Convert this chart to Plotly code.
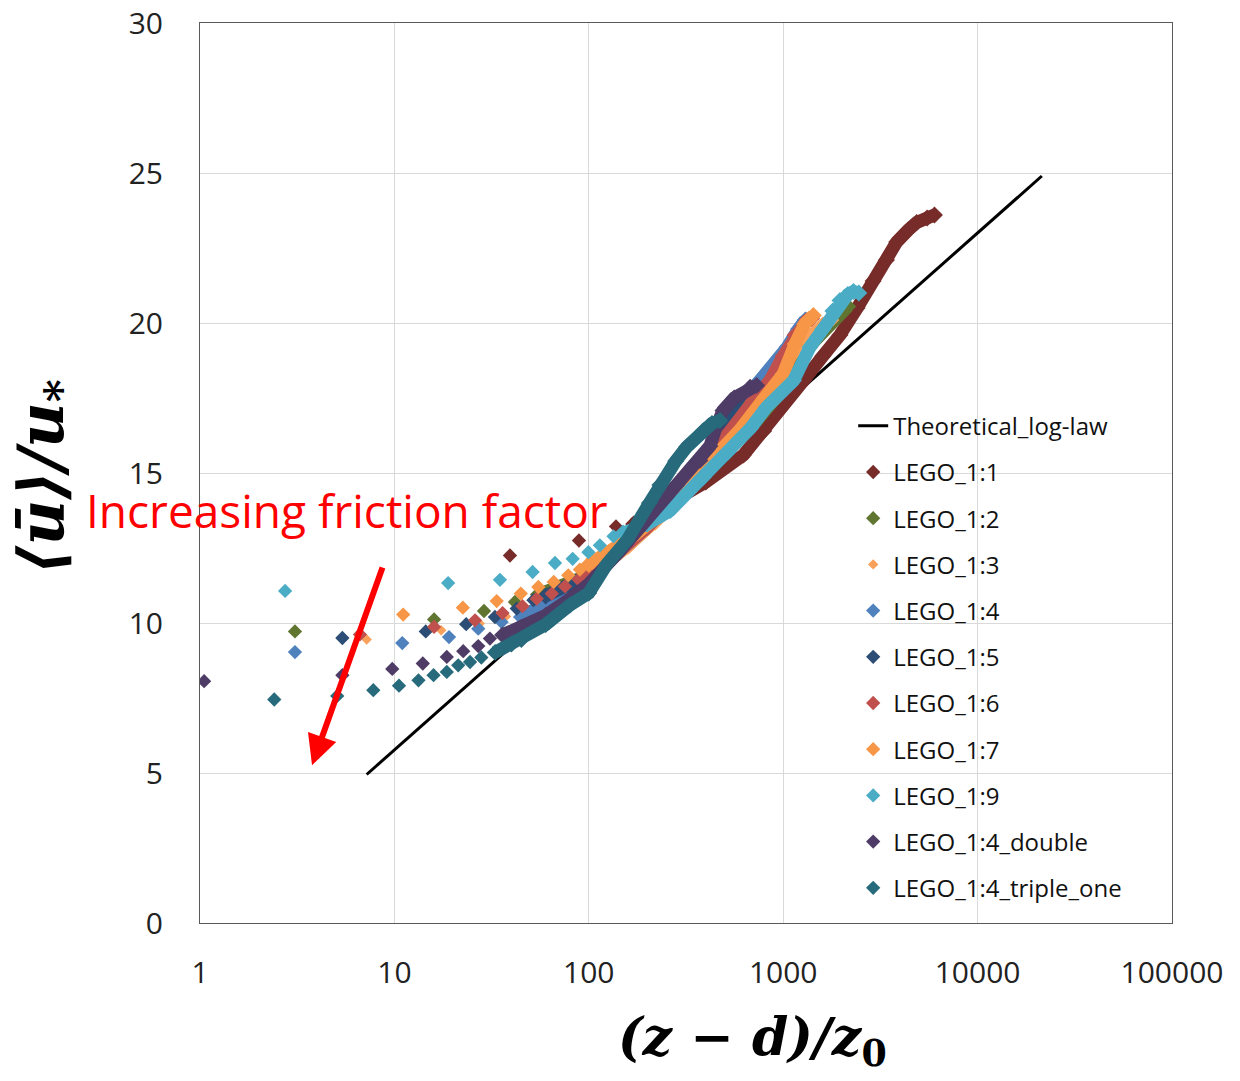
import math
import plotly.graph_objects as go

# Axis ticks
X_TICKS = [1, 10, 100, 1000, 10000, 100000]
Y_TICKS = [0, 5, 10, 15, 20, 25, 30]

# Theoretical log-law (straight on the log axis)
THEORY_X = [7.2, 21400]
THEORY_Y = [4.95, 24.9]

# LEGO_1:1
L11_NEAR_X = [39.3, 89.0, 138]
L11_NEAR_Y = [12.25, 12.75, 13.22]
L11_PROF_X = [170, 250, 400, 624, 794, 1000, 1280, 1600, 1959, 2400, 2900, 3400, 3836, 4400, 4860, 5500, 6000]
L11_PROF_Y = [13.3, 13.9, 14.7, 15.6, 16.4, 17.3, 18.1, 18.9, 19.6, 20.5, 21.4, 22.1, 22.7, 23.1, 23.35, 23.5, 23.6]

# LEGO_1:2
L12_NEAR_X = [3.08, 16.0, 28.9, 41.7]
L12_NEAR_Y = [9.72, 10.12, 10.40, 10.70]
L12_PROF_X = [55, 75, 100, 150, 262, 400, 700, 1000, 1400, 1800, 2030, 2150]
L12_PROF_Y = [10.95, 11.25, 11.6, 12.6, 13.9, 15.0, 16.6, 17.8, 19.3, 20.1, 20.4, 20.55]

# LEGO_1:3
L13_NEAR_X = [7.2, 17.4, 27.5, 37.5, 47.5, 57, 67, 77]
L13_NEAR_Y = [9.45, 9.76, 9.98, 10.22, 10.47, 10.7, 10.9, 11.1]
L13_PROF_X = [90, 120, 160, 220, 300, 420, 560, 750, 1000, 1300, 1600, 1800]
L13_PROF_Y = [11.35, 11.85, 12.5, 13.3, 14.1, 15.2, 16.1, 17.2, 18.4, 19.5, 20.0, 20.1]

# LEGO_1:4
L14_NEAR_X = [3.08, 10.98, 19.1, 27.0, 35.6]
L14_NEAR_Y = [9.03, 9.33, 9.53, 9.81, 10.03]
L14_PROF_X = [45, 60, 80, 100, 140, 200, 300, 420, 520, 640, 760, 900, 1050, 1200, 1300]
L14_PROF_Y = [10.2, 10.6, 11.1, 11.5, 12.3, 13.2, 14.5, 15.7, 16.6, 17.5, 18.1, 18.6, 19.2, 19.8, 20.1]

# LEGO_1:5
L15_NEAR_X = [5.4, 14.5, 23.4, 32.9, 42.6, 51.9]
L15_NEAR_Y = [9.50, 9.72, 9.96, 10.20, 10.48, 10.76]
L15_PROF_X = [60, 80, 100, 140, 200, 300, 400, 500, 620, 700]
L15_PROF_Y = [10.9, 11.3, 11.6, 12.4, 13.3, 14.6, 15.6, 16.5, 17.4, 17.8]

# LEGO_1:6
L16_NEAR_X = [6.65, 16.0, 26.0, 36.0, 45.6, 54.0, 64.5, 75.4]
L16_NEAR_Y = [9.62, 9.87, 10.09, 10.33, 10.56, 10.81, 10.98, 11.22]
L16_PROF_X = [90, 110, 150, 200, 300, 420, 537, 700, 855, 1000, 1150, 1320, 1400]
L16_PROF_Y = [11.45, 11.8, 12.5, 13.2, 14.4, 15.5, 16.42, 17.4, 18.08, 18.9, 19.6, 20.08, 20.15]

# LEGO_1:7
L17_NEAR_X = [11.1, 22.5, 33.6, 44.7, 55.0, 66.0, 78.4, 90.0]
L17_NEAR_Y = [10.28, 10.51, 10.73, 10.98, 11.20, 11.37, 11.59, 11.78]
L17_PROF_X = [100, 130, 170, 230, 320, 450, 595, 800, 1000, 1150, 1290, 1430]
L17_PROF_Y = [11.95, 12.4, 12.9, 13.6, 14.6, 15.7, 16.42, 17.5, 18.3, 19.3, 19.97, 20.25]

# LEGO_1:9
L19_NEAR_X = [2.74, 18.9, 34.9, 51.4, 67.0, 82.6, 99.5, 114, 134]
L19_NEAR_Y = [11.07, 11.33, 11.44, 11.70, 12.00, 12.14, 12.36, 12.59, 12.89]
L19_PROF_X = [150, 200, 262, 388, 520, 680, 822, 1130, 1374, 1600, 1800, 1959, 2150, 2300, 2450]
L19_PROF_Y = [13.0, 13.3, 13.75, 14.86, 15.7, 16.5, 17.2, 18.08, 19.2, 19.8, 20.4, 20.75, 20.95, 21.05, 21.0]

# LEGO_1:4_double
LD_NEAR_X = [1.05, 5.4, 9.75, 14.0, 18.6, 22.6, 27.0, 31.0]
LD_NEAR_Y = [8.06, 8.26, 8.47, 8.65, 8.87, 9.06, 9.23, 9.48]
LD_PROF_X = [36, 45, 60, 80, 100, 140, 190, 250, 283, 340, 373, 420, 450, 490, 560, 676, 730]
LD_PROF_Y = [9.6, 9.85, 10.25, 10.8, 11.3, 12.3, 13.3, 14.2, 14.6, 15.2, 15.42, 15.9, 16.5, 17.08, 17.5, 17.86, 17.92]

# LEGO_1:4_triple_one
LT_NEAR_X = [2.41, 5.08, 7.79, 10.56, 13.3, 15.9, 18.6, 21.3, 24.5, 28.0]
LT_NEAR_Y = [7.45, 7.57, 7.76, 7.91, 8.09, 8.26, 8.37, 8.59, 8.70, 8.85]
LT_PROF_X = [33, 40, 45, 60, 80, 100, 125, 157, 205, 232, 280, 318, 388, 430, 473]
LT_PROF_Y = [9.02, 9.3, 9.45, 9.95, 10.6, 11.0, 12.0, 12.75, 14.0, 14.6, 15.4, 15.86, 16.41, 16.65, 16.75]

SERIES = [
    ("LEGO_1:1", L11_NEAR_X, L11_NEAR_Y, L11_PROF_X, L11_PROF_Y, "#772C2A", 11),
    ("LEGO_1:2", L12_NEAR_X, L12_NEAR_Y, L12_PROF_X, L12_PROF_Y, "#5F7530", 11),
    ("LEGO_1:3", L13_NEAR_X, L13_NEAR_Y, L13_PROF_X, L13_PROF_Y, "#F9A05A", 8),
    ("LEGO_1:4", L14_NEAR_X, L14_NEAR_Y, L14_PROF_X, L14_PROF_Y, "#4F81BD", 11),
    ("LEGO_1:5", L15_NEAR_X, L15_NEAR_Y, L15_PROF_X, L15_PROF_Y, "#2C4D75", 11),
    ("LEGO_1:6", L16_NEAR_X, L16_NEAR_Y, L16_PROF_X, L16_PROF_Y, "#C0504D", 11),
    ("LEGO_1:7", L17_NEAR_X, L17_NEAR_Y, L17_PROF_X, L17_PROF_Y, "#F79646", 11),
    ("LEGO_1:9", L19_NEAR_X, L19_NEAR_Y, L19_PROF_X, L19_PROF_Y, "#4BACC6", 11),
    ("LEGO_1:4_double", LD_NEAR_X, LD_NEAR_Y, LD_PROF_X, LD_PROF_Y, "#4E3B66", 11),
    ("LEGO_1:4_triple_one", LT_NEAR_X, LT_NEAR_Y, LT_PROF_X, LT_PROF_Y, "#276A7C", 11),
]

# Annotation arrow (data units)
ARROW_TAIL = (8.74, 11.9)
ARROW_HEAD = (3.77, 5.26)

fig = go.Figure()

fig.add_trace(go.Scatter(
    x=THEORY_X, y=THEORY_Y, mode="lines", name="Theoretical_log-law",
    line=dict(color="black", width=3), legendgroup="theory",
))

for name, nx, ny, px_, py_, color, size in SERIES:
    band = 13 if size > 9 else 9
    # densely sampled outer-layer profile
    fig.add_trace(go.Scatter(
        x=px_, y=py_, mode="lines+markers", name=name, legendgroup=name,
        showlegend=False, hoverinfo="skip",
        line=dict(color=color, width=band),
        marker=dict(symbol="diamond", size=size + 2, color=color, line=dict(width=0)),
    ))
    # near-wall points
    fig.add_trace(go.Scatter(
        x=nx, y=ny, mode="markers", name=name, legendgroup=name,
        marker=dict(symbol="diamond", size=size, color=color, line=dict(width=0)),
    ))

font_main = "Open Sans, Segoe UI, sans-serif"

fig.update_layout(
    width=1240, height=1081,
    margin=dict(l=200, r=68, t=23, b=158, autoexpand=False),
    paper_bgcolor="white", plot_bgcolor="white",
    font=dict(family=font_main, color="#222"),
    showlegend=True,
    legend=dict(
        x=0.672, y=0.577, xanchor="left", yanchor="top",
        bgcolor="rgba(0,0,0,0)", borderwidth=0,
        font=dict(size=24, family=font_main, color="#111"),
        tracegroupgap=12, itemsizing="trace",
    ),
    xaxis=dict(
        type="log", range=[0, 5], automargin=False,
        tickvals=X_TICKS, ticktext=[str(v) for v in X_TICKS],
        tickfont=dict(size=30, color="#222"),
        showgrid=True, gridcolor="#D9D9D9", gridwidth=1,
        showline=True, linecolor="#595959", linewidth=1, mirror=True,
        ticks="", ticklabelstandoff=23, zeroline=False,
    ),
    yaxis=dict(
        range=[0, 30], tickvals=Y_TICKS, automargin=False,
        tickfont=dict(size=30, color="#222"),
        showgrid=True, gridcolor="#D9D9D9", gridwidth=1,
        showline=True, linecolor="#595959", linewidth=1, mirror=True,
        ticks="", ticklabelstandoff=30, zeroline=False,
    ),
)

# Axis titles
fig.add_annotation(
    xref="paper", yref="paper", x=0.568, y=-0.13, xanchor="center", yanchor="middle",
    text="<b><i>(z − d)/z</i><sub>0</sub></b>", showarrow=False,
    font=dict(family="DejaVu Serif, serif", size=52, color="black"),
)
fig.add_annotation(
    xref="paper", yref="paper", x=-0.159, y=0.4956, xanchor="center", yanchor="middle",
    text="<b><i>⟨ū⟩/u</i><sub>*</sub></b>", showarrow=False, textangle=-90,
    font=dict(family="DejaVu Serif, serif", size=63, color="black"),
)

# Red call-out
fig.add_annotation(
    xref="paper", yref="paper", x=-0.1193, y=0.4589, xanchor="left", yanchor="middle",
    text="Increasing friction factor", showarrow=False,
    font=dict(family=font_main, size=46, color="#FF0000"),
)
fig.add_annotation(
    xref="x", yref="y", axref="x", ayref="y",
    x=math.log10(ARROW_HEAD[0]), y=ARROW_HEAD[1],
    ax=math.log10(ARROW_TAIL[0]), ay=ARROW_TAIL[1],
    text="", showarrow=True, arrowhead=2, arrowsize=1, arrowwidth=6, arrowcolor="#FF0000",
)

fig.write_html("out.html")
